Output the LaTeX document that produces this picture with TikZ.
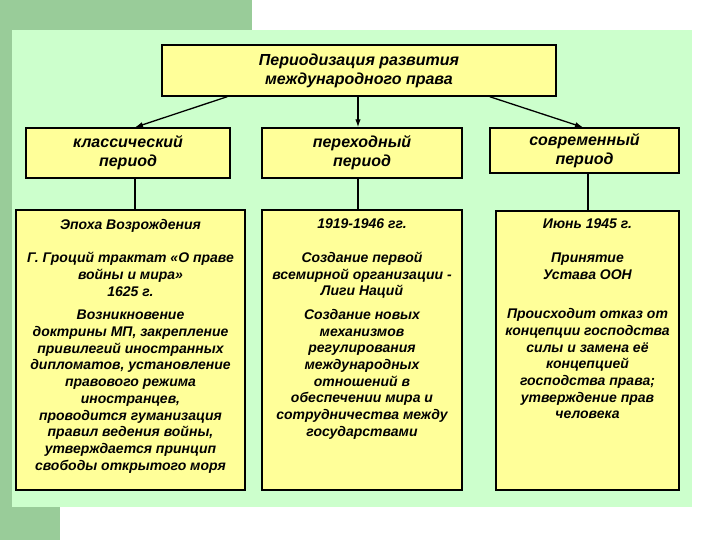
\documentclass[tikz,border=0pt]{standalone}
\usepackage{fontspec}
\setmainfont{Liberation Sans}
\usetikzlibrary{
    arrows.meta,  % For arrow tips
    positioning,  % For relative placement
}

\definecolor{darkgr}{RGB}{153,204,153}
\definecolor{lightgr}{RGB}{204,255,204}
\definecolor{boxyel}{RGB}{255,255,153}

\begin{document}
\begin{tikzpicture}[
    x=1pt, y=-1pt,
    >={Latex[length=8pt,width=5.5pt]}, % Default arrow tip
    box/.style={draw, line width=1.4pt, fill=boxyel, inner sep=0pt, align=center,
                font=\fontsize{16}{19}\selectfont\bfseries\itshape}, % Yellow boxes
    txt/.style={anchor=north, inner sep=0pt, align=center,
                font=\fontsize{14}{16.7}\selectfont\bfseries\itshape}, % Text in lower boxes
    link/.style={line width=1.3pt}, % Plain connectors
    arrowlink/.style={->, line width=1.3pt} % Arrow connectors
]

    % Background
    \useasboundingbox (0,0) rectangle (720,540);
    \fill[white] (0,0) rectangle (720,540);
    \fill[darkgr] (0,0) rectangle (252,30);
    \fill[darkgr] (0,0) rectangle (12,540);
    \fill[darkgr] (0,507) rectangle (60,540);
    \fill[lightgr] (12,30) rectangle (692,507);

    % Title
    \node[box, minimum width=394pt, minimum height=51pt] (title) at (359,70.5)
        {Периодизация развития\\международного права};

    % Periods
    \node[box, minimum width=204pt, minimum height=50pt] (classic) at (128,153)
        {классический\\период};
    \node[box, minimum width=200pt, minimum height=50pt] (transit) at (362,153)
        {переходный\\период};
    \node[box, minimum width=189pt, minimum height=45pt] (modern) at (584.5,150.5)
        {современный\\период};

    % Lower boxes
    \node[box, minimum width=229pt, minimum height=280pt] (classicbox) at (130.5,350) {};
    \node[box, minimum width=200pt, minimum height=280pt] (transitbox) at (362,350) {};
    \node[box, minimum width=183pt, minimum height=279pt] (modernbox) at (587.5,350.5) {};

    % Texts of lower boxes
    \node[txt] (classictxt) at (130.5,219)
        {Эпоха Возрождения\\[16.7pt]
         Г. Гроций трактат «О праве\\войны и мира»\\1625 г.\\[7pt]
         Возникновение\\доктрины МП, закрепление\\привилегий иностранных\\
         дипломатов, установление\\правового режима\\иностранцев,\\
         проводится гуманизация\\правил ведения войны,\\утверждается принцип\\
         свободы открытого моря};
    \node[txt] (transittxt) at (362,219)
        {1919-1946 гг.\\[16.7pt]
         Создание первой\\всемирной организации -\\Лиги Наций\\[7pt]
         Создание новых\\механизмов\\регулирования\\международных\\
         отношений в\\обеспечении мира и\\сотрудничества между\\государствами};
    \node[txt] (moderntxt) at (587.5,219)
        {Июнь 1945 г.\\[16.7pt]
         Принятие\\Устава ООН\\[23pt]
         Происходит отказ от\\концепции господства\\силы и замена её\\
         концепцией\\господства права;\\утверждение прав\\человека};

    % Arrows from title
    \coordinate (tl) at ([xshift=66pt]title.south west);
    \coordinate (tr) at ([xshift=-67pt]title.south east);
    \draw[arrowlink] (tl) -- ([xshift=7pt]classic.north);
    \draw[arrowlink] ([xshift=-1pt]title.south) -- ([xshift=-1pt]title.south |- transit.north);
    \draw[arrowlink] (tr) -- ([xshift=-1.5pt]modern.north);

    % Links to lower boxes
    \draw[link] ([xshift=7pt]classic.south) -- ([xshift=7pt]classic.south |- classicbox.north);
    \draw[link] ([xshift=-4pt]transit.south) -- ([xshift=-4pt]transit.south |- transitbox.north);
    \draw[link] ([xshift=3.5pt]modern.south) -- ([xshift=3.5pt]modern.south |- modernbox.north);

\end{tikzpicture}
\end{document}
